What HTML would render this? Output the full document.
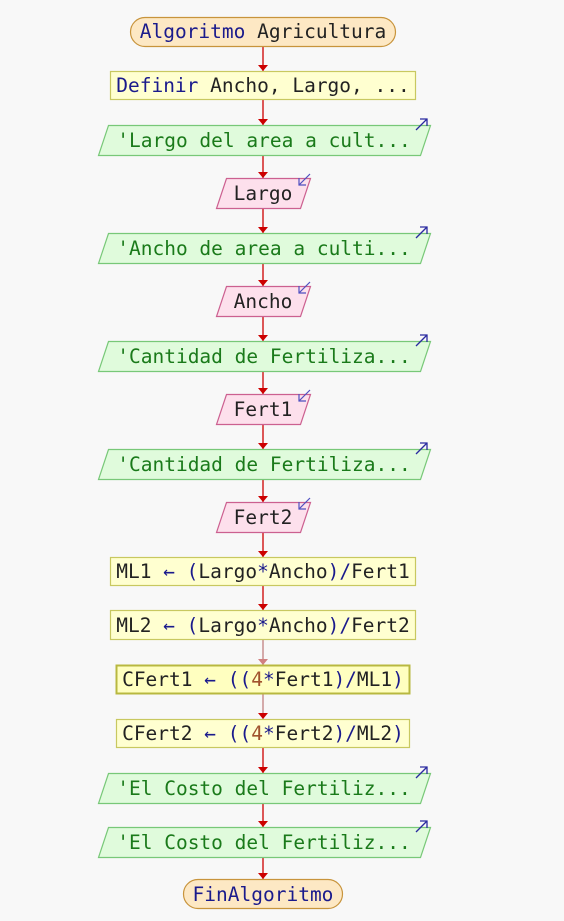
<!DOCTYPE html>
<html><head><meta charset="utf-8"><style>
html,body{margin:0;padding:0;background:#f8f8f8;}
svg{display:block;}
text{font-family:"DejaVu Sans Mono","Liberation Mono",monospace;font-size:19.5px;}
</style></head><body>
<svg width="564" height="921" viewBox="0 0 564 921" xmlns="http://www.w3.org/2000/svg">
<defs>
<g id="ah"><polygon points="-5,-6 5,-6 0,0" fill="#cc0000"/></g>
<g id="outico"><line x1="0" y1="12" x2="11" y2="1" stroke="#2a2aa0" stroke-width="1.3"/><polyline points="4,1 11,1 11,8" fill="none" stroke="#2a2aa0" stroke-width="1.3"/></g>
<g id="inico"><line x1="12" y1="0" x2="1" y2="11" stroke="#5050c0" stroke-width="1.2"/><polyline points="1,4 1,11 8,11" fill="none" stroke="#5050c0" stroke-width="1.2"/></g>
</defs>
<!-- connectors -->
<g stroke="#cc0000" stroke-width="1.3">
<line x1="263" y1="46" x2="263" y2="71"/>
<line x1="263" y1="100" x2="263" y2="125"/>
<line x1="263" y1="155" x2="263" y2="178"/>
<line x1="263" y1="208" x2="263" y2="233"/>
<line x1="263" y1="263" x2="263" y2="286"/>
<line x1="263" y1="316" x2="263" y2="341"/>
<line x1="263" y1="371" x2="263" y2="394"/>
<line x1="263" y1="424" x2="263" y2="449"/>
<line x1="263" y1="479" x2="263" y2="502"/>
<line x1="263" y1="532" x2="263" y2="557"/>
<line x1="263" y1="586" x2="263" y2="610"/>
<line x1="263" y1="640" x2="263" y2="665" stroke="#c08080"/>
<line x1="263" y1="694" x2="263" y2="719" stroke="#c08080"/>
<line x1="263" y1="748" x2="263" y2="773"/>
<line x1="263" y1="803" x2="263" y2="827"/>
<line x1="263" y1="857" x2="263" y2="879"/>
</g>
<use href="#ah" x="263" y="71"/><use href="#ah" x="263" y="125"/><use href="#ah" x="263" y="178"/>
<use href="#ah" x="263" y="233"/><use href="#ah" x="263" y="286"/><use href="#ah" x="263" y="341"/>
<use href="#ah" x="263" y="394"/><use href="#ah" x="263" y="449"/><use href="#ah" x="263" y="502"/>
<use href="#ah" x="263" y="557"/><use href="#ah" x="263" y="610"/>
<polygon points="258,659 268,659 263,665" fill="#d08080"/>
<use href="#ah" x="263" y="719"/><use href="#ah" x="263" y="773"/><use href="#ah" x="263" y="827"/><use href="#ah" x="263" y="879"/>

<!-- start -->
<rect x="130.5" y="17.5" width="265" height="29" rx="14.5" fill="#fde8c4" stroke="#c8943c" stroke-width="1.2"/>
<text x="263" y="38" text-anchor="middle" fill="#1a1a8c">Algoritmo <tspan fill="#222">Agricultura</tspan></text>

<rect x="110.5" y="71.5" width="305" height="28" fill="#ffffd0" stroke="#c8c860" stroke-width="1.2"/>
<text x="263" y="92" text-anchor="middle" fill="#222"><tspan fill="#1a1a8c">Definir</tspan> Ancho, Largo, ...</text>

<!-- outputs -->
<g fill="#e0fbdc" stroke="#78c878" stroke-width="1.2">
<polygon points="108.5,125.5 430.5,125.5 420.5,155.5 98.5,155.5"/>
<polygon points="108.5,233.5 430.5,233.5 420.5,263.5 98.5,263.5"/>
<polygon points="108.5,341.5 430.5,341.5 420.5,371.5 98.5,371.5"/>
<polygon points="108.5,449.5 430.5,449.5 420.5,479.5 98.5,479.5"/>
<polygon points="108.5,773.5 430.5,773.5 420.5,803.5 98.5,803.5"/>
<polygon points="108.5,827.5 430.5,827.5 420.5,857.5 98.5,857.5"/>
</g>
<g fill="#1a7a1a" text-anchor="middle">
<text x="264" y="147">'Largo del area a cult...</text>
<text x="264" y="255">'Ancho de area a culti...</text>
<text x="264" y="363">'Cantidad de Fertiliza...</text>
<text x="264" y="471">'Cantidad de Fertiliza...</text>
<text x="264" y="795">'El Costo del Fertiliz...</text>
<text x="264" y="849">'El Costo del Fertiliz...</text>
</g>
<use href="#outico" x="416" y="118"/><use href="#outico" x="416" y="226"/><use href="#outico" x="416" y="334"/>
<use href="#outico" x="416" y="442"/><use href="#outico" x="416" y="766"/><use href="#outico" x="416" y="820"/>

<!-- inputs -->
<g fill="#fde0ec" stroke="#cc6090" stroke-width="1.2">
<polygon points="226.5,178.5 310.5,178.5 300.5,208.5 216.5,208.5"/>
<polygon points="226.5,286.5 310.5,286.5 300.5,316.5 216.5,316.5"/>
<polygon points="226.5,394.5 310.5,394.5 300.5,424.5 216.5,424.5"/>
<polygon points="226.5,502.5 310.5,502.5 300.5,532.5 216.5,532.5"/>
</g>
<g fill="#222" text-anchor="middle">
<text x="263" y="200">Largo</text>
<text x="263" y="308">Ancho</text>
<text x="263" y="416">Fert1</text>
<text x="263" y="524">Fert2</text>
</g>
<use href="#inico" x="298" y="174"/><use href="#inico" x="298" y="282"/><use href="#inico" x="298" y="390"/><use href="#inico" x="298" y="498"/>

<!-- assignments -->
<rect x="110.5" y="557.5" width="305" height="28" fill="#ffffd0" stroke="#c8c860" stroke-width="1.2"/>
<text x="263" y="578" text-anchor="middle" fill="#222">ML1 <tspan fill="#1a1a8c">← (</tspan>Largo<tspan fill="#1a1a8c">*</tspan>Ancho<tspan fill="#1a1a8c">)/</tspan>Fert1</text>
<rect x="110.5" y="610.5" width="305" height="29" fill="#ffffd0" stroke="#c8c860" stroke-width="1.2"/>
<text x="263" y="632" text-anchor="middle" fill="#222">ML2 <tspan fill="#1a1a8c">← (</tspan>Largo<tspan fill="#1a1a8c">*</tspan>Ancho<tspan fill="#1a1a8c">)/</tspan>Fert2</text>
<rect x="116.5" y="665.5" width="293" height="28" fill="#ffffc0" stroke="#b8b840" stroke-width="2"/>
<text x="263" y="686" text-anchor="middle" fill="#222">CFert1 <tspan fill="#1a1a8c">← ((</tspan><tspan fill="#a0522d">4</tspan><tspan fill="#1a1a8c">*</tspan>Fert1<tspan fill="#1a1a8c">)/</tspan>ML1<tspan fill="#1a1a8c">)</tspan></text>
<rect x="116.5" y="719.5" width="293" height="28" fill="#ffffd0" stroke="#c8c860" stroke-width="1.2"/>
<text x="263" y="740" text-anchor="middle" fill="#222">CFert2 <tspan fill="#1a1a8c">← ((</tspan><tspan fill="#a0522d">4</tspan><tspan fill="#1a1a8c">*</tspan>Fert2<tspan fill="#1a1a8c">)/</tspan>ML2<tspan fill="#1a1a8c">)</tspan></text>

<!-- end -->
<rect x="183.5" y="879.5" width="159" height="29" rx="14.5" fill="#fde8c4" stroke="#c8943c" stroke-width="1.2"/>
<text x="263" y="901" text-anchor="middle" fill="#1a1a8c">FinAlgoritmo</text>
</svg>
</body></html>
